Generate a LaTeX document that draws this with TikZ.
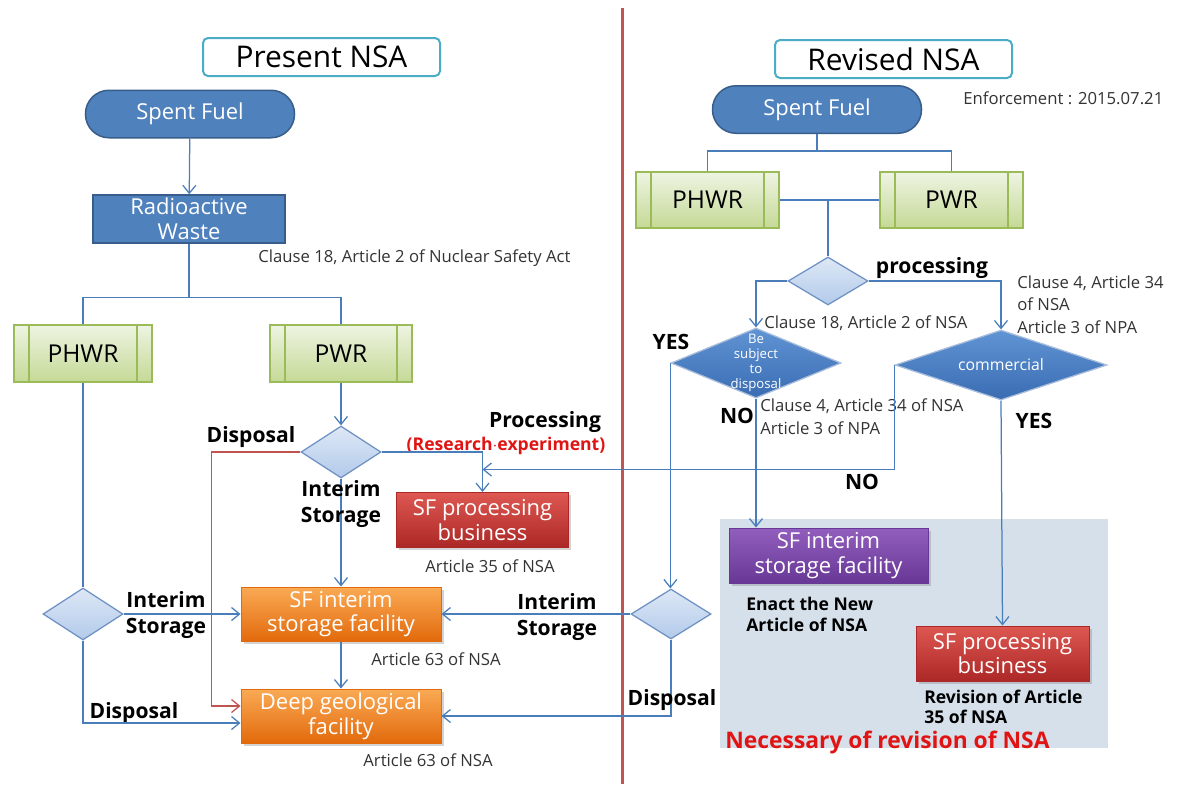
\documentclass[tikz,border=0pt]{standalone}
\usepackage{fontspec}
\setmainfont{Open Sans}
% arrows.meta for the open arrow tips, shapes.geometric for the diamonds
\usetikzlibrary{arrows.meta,shapes.geometric,shadows}

\definecolor{linkblue}{RGB}{74,126,187}
\definecolor{sfblue}{RGB}{79,129,189}
\definecolor{sfborder}{RGB}{56,93,138}
\definecolor{titleteal}{RGB}{75,172,198}
\definecolor{greentop}{RGB}{238,244,226}
\definecolor{greenbot}{RGB}{197,217,150}
\definecolor{greenborder}{RGB}{155,187,89}
\definecolor{diatop}{RGB}{222,232,246}
\definecolor{diabot}{RGB}{178,202,234}
\definecolor{diaborder}{RGB}{110,145,196}
\definecolor{darktop}{RGB}{96,148,212}
\definecolor{darkbot}{RGB}{58,108,178}
\definecolor{orangetop}{RGB}{250,170,85}
\definecolor{orangebot}{RGB}{226,106,12}
\definecolor{redtop}{RGB}{222,88,82}
\definecolor{redbot}{RGB}{172,40,38}
\definecolor{purpletop}{RGB}{146,94,190}
\definecolor{purplebot}{RGB}{104,56,150}
\definecolor{shadefill}{RGB}{214,224,235}
\definecolor{divider}{RGB}{192,84,80}
\definecolor{labelred}{RGB}{225,20,20}

\begin{document}
\begin{tikzpicture}[x=0.2mm,y=-0.2mm,
		titlenode/.style={
		% The shape:
		rectangle, rounded corners=1mm,
		% The size:
		minimum width=47.4mm, minimum height=7.6mm,
		% The border:
		draw=titleteal, line width=0.4mm,
		fill=white,
		% Font
		font=\fontsize{17}{20}\selectfont
		},
		fuelnode/.style={
		rectangle, rounded corners=4.7mm,
		minimum width=41.8mm, minimum height=9.5mm,
		draw=sfborder, line width=0.3mm, fill=sfblue,
		text=white, font=\fontsize{12.5}{14}\selectfont
		},
		wastenode/.style={
		rectangle,
		minimum width=38.4mm, minimum height=9.6mm, inner sep=0pt,
		draw=sfborder, line width=0.3mm, fill=sfblue,
		text=white, align=center, font=\fontsize{12.5}{14.2}\selectfont
		},
		reactornode/.style={
		rectangle,
		minimum height=11.4mm,
		draw=greenborder, line width=0.25mm,
		top color=greentop, bottom color=greenbot,
		font=\fontsize{14}{16}\selectfont,
		path picture={
			\draw[greenborder, line width=0.25mm]
				([xshift=3mm]path picture bounding box.north west) -- ([xshift=3mm]path picture bounding box.south west)
				([xshift=-3mm]path picture bounding box.north east) -- ([xshift=-3mm]path picture bounding box.south east);
		}
		},
		choicenode/.style={
		diamond, inner sep=0pt,
		minimum width=16mm, minimum height=10.4mm,
		draw=diaborder, line width=0.25mm,
		top color=diatop, bottom color=diabot
		},
		darkchoice/.style={
		diamond, inner sep=0pt, aspect=3,
		draw=diaborder!60!white, line width=0.25mm,
		top color=darktop, bottom color=darkbot,
		text=white
		},
		facilitynode/.style={
		rectangle, inner sep=0pt,
		minimum width=40mm, minimum height=10.8mm,
		draw=orangebot, line width=0.2mm,
		top color=orangetop, bottom color=orangebot,
		drop shadow={shadow xshift=0.5mm, shadow yshift=-0.5mm, opacity=0.35},
		text=white, align=center, font=\fontsize{12.5}{14}\selectfont
		},
		businessnode/.style={
		rectangle, inner sep=0pt,
		minimum width=34.4mm, minimum height=11mm,
		draw=redbot, line width=0.2mm,
		top color=redtop, bottom color=redbot,
		drop shadow={shadow xshift=0.5mm, shadow yshift=-0.5mm, opacity=0.35},
		text=white, align=center, font=\fontsize{12.5}{14}\selectfont
		},
		newnode/.style={
		rectangle, inner sep=0pt,
		minimum width=39.8mm, minimum height=11mm,
		draw=purplebot, line width=0.2mm,
		top color=purpletop, bottom color=purplebot,
		drop shadow={shadow xshift=0.5mm, shadow yshift=-0.5mm, opacity=0.35},
		text=white, align=center, font=\fontsize{12.5}{14}\selectfont
		},
		note/.style={text=black!80, font=\fontsize{9.5}{11}\selectfont, inner sep=0pt},
		tag/.style={font=\bfseries\fontsize{12}{15}\selectfont, align=center, inner sep=0pt},
		smalltag/.style={font=\bfseries\fontsize{10}{12}\selectfont, align=left, inner sep=0pt},
		link/.style={draw=linkblue, line width=0.25mm},
		arrow/.style={link, -{Straight Barb[length=1.6mm,width=2.6mm]}},
		redlink/.style={draw=divider, line width=0.25mm, -{Straight Barb[length=1.6mm,width=2.6mm]}}
	]
	\useasboundingbox (0,0) rectangle (1178,784);

	% shaded part of the revised law
	\fill[shadefill] (720,519) rectangle (1108,748);
	% border between both panels
	\draw[divider, line width=0.6mm] (622,8) -- (622,784);

	% ---- present NSA ----
	\node (titleL)[titlenode] at (321.5,57) {Present NSA};
	\node (fuelL)[fuelnode] at (190,114) {Spent Fuel};
	\node (waste)[wastenode] at (189,219) {Radioactive\\Waste};
	\node (clauseL)[note, anchor=west] at (258,258) {Clause 18, Article 2 of Nuclear Safety Act};
	\node (phwrL)[reactornode, minimum width=27.6mm] at (83,353.5) {PHWR};
	\node (pwrL)[reactornode, minimum width=28.4mm] at (341,353.5) {PWR};
	\node (choiceL)[choicenode] at (341,452) {};
	\node (procL)[businessnode] at (482.5,520) {SF processing\\business};
	\node (interimL)[facilitynode] at (341,614) {SF interim\\storage facility};
	\node (deepL)[facilitynode] at (341,716) {Deep geological\\facility};
	\node (choicePH)[choicenode] at (83,614) {};

	\node (tagDisp)[tag] at (251,437) {Disposal};
	\node (tagProc)[tag] at (545,422) {Processing};
	\node (tagRes)[tag, text=labelred, font=\bfseries\fontsize{10}{12}\selectfont] at (506,446) {(Research$\cdot$experiment)};
	\node (art35)[note] at (490,566) {Article 35 of NSA};
	\node (art63a)[note] at (436,659) {Article 63 of NSA};
	\node (art63b)[note] at (428,760) {Article 63 of NSA};
	\node (tagPHint)[tag] at (166,615) {Interim\\Storage};
	\node (tagPHdisp)[tag] at (134,713) {Disposal};

	\draw[arrow] (fuelL) -- (waste);
	\draw[link] (waste.south) -- ++(0,54) coordinate (jL);
	\draw[link] (phwrL.north) |- (jL) -| (pwrL.north);
	\draw[link] (phwrL.south) -- (choicePH.north);
	\draw[arrow] (pwrL.south) -- (choiceL.north);
	\draw[redlink] (choiceL.west) -- ++(-89,0) |- ([yshift=2mm]deepL.west);
	\draw[arrow] (choiceL.east) -| (procL.north);
	\draw[arrow] (choiceL.south) -- (interimL.north);
	\draw[arrow] (interimL.south) -- (deepL.north);
	\draw[arrow] (choicePH.east) -- (interimL.west);
	\draw[arrow] (choicePH.south) |- ([yshift=-1.4mm]deepL.west);
	% label lies over the line
	\node (tagInt)[tag] at (341,504) {Interim\\Storage};

	% ---- revised NSA ----
	\node (titleR)[titlenode] at (893.5,59) {Revised NSA};
	\node (enforce)[note, anchor=west] at (963,98) {Enforcement : 2015.07.21};
	\node (fuelR)[fuelnode] at (817,109.5) {Spent Fuel};
	\node (phwrR)[reactornode, minimum width=28.6mm, minimum height=11.2mm] at (707.5,200) {PHWR};
	\node (pwrR)[reactornode, minimum width=28.6mm, minimum height=11.2mm] at (951.5,200) {PWR};
	\node (choiceR)[choicenode, minimum height=9.6mm] at (828,281) {};
	\node (subject)[darkchoice, minimum width=34mm, minimum height=14mm,
		label={[text=white, align=center, font=\fontsize{7.5}{8.5}\selectfont]center:Be\\subject\\to\\disposal}] at (756,363) {};
	\node (commerce)[darkchoice, minimum width=42.4mm, minimum height=14mm, font=\fontsize{9}{10}\selectfont] at (1001,365) {commercial};
	\node (choiceRL)[choicenode, minimum height=10mm] at (671,614) {};
	\node (interimR)[newnode] at (828.5,555.5) {SF interim\\storage facility};
	\node (procR)[businessnode, minimum width=34.6mm] at (1002.5,653.5) {SF processing\\business};

	\node (tagProcR)[tag] at (932,268) {processing};
	\node (clause34a)[note, anchor=west, align=left, font=\fontsize{9.5}{12.8}\selectfont] at (1017,304.5) {Clause 4, Article 34\\of NSA\\Article 3 of NPA};
	\node (clause18R)[note, anchor=west] at (764,323) {Clause 18, Article 2 of NSA};
	\node (tagYesL)[tag] at (671,342) {YES};
	\node (tagNoL)[tag] at (737,416) {NO};
	\node (clause34b)[note, anchor=west, align=left, font=\fontsize{9.5}{13}\selectfont] at (760,416.5) {Clause 4, Article 34 of NSA\\Article 3 of NPA};
	\node (tagNoR)[tag] at (862,482) {NO};
	\node (tagYesR)[tag] at (1034,421) {YES};
	\node (tagIntR)[tag] at (557,617) {Interim\\Storage};
	\node (enact)[smalltag, anchor=west] at (746,614.5) {Enact the New\\Article of NSA};
	\node (revise)[smalltag, anchor=west, font=\bfseries\fontsize{10}{11.4}\selectfont] at (924,707) {Revision of Article\\35 of NSA};
	\node (needed)[tag, anchor=west, text=labelred, font=\bfseries\fontsize{13}{15}\selectfont] at (725,742) {Necessary of revision of NSA};

	\draw[link] (fuelR.south) -- ++(0,17) coordinate (jR);
	\draw[link] (phwrR.north) |- (jR) -| (pwrR.north);
	\draw[link] (phwrR.east) -- (pwrR.west);
	\draw[link] (phwrR.east -| choiceR.north) -- (choiceR.north);
	\draw[arrow] (choiceR.west) -| (subject.north);
	\draw[arrow] (choiceR.east) -| (commerce.north);
	\draw[arrow] (subject.west) -- (subject.west |- choiceRL.north);
	\draw[arrow] (subject.south) -- (subject.south |- interimR.north);
	\draw[arrow] (commerce.west) |- ([yshift=4.5mm]procL.north);
	\draw[arrow] (commerce.south) -- (procR.north);
	\draw[arrow] (choiceRL.west) -- (interimL.east);
	\draw[arrow] (choiceRL.south) |- (deepL.east);
	% label lies over the line
	\node (tagDispR)[tag] at (672,700) {Disposal};
\end{tikzpicture}
\end{document}
